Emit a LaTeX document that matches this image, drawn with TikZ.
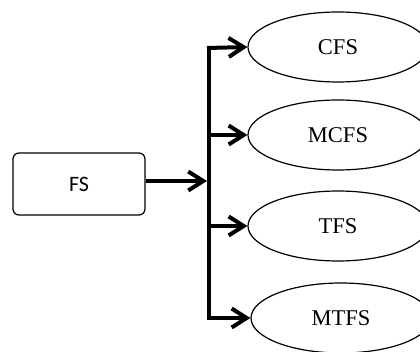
\documentclass[tikz,border=0pt]{standalone}
\usepackage{fontspec}
\setmainfont{Liberation Serif}
\newfontfamily\boxfont{Carlito}
\usetikzlibrary{shapes.geometric,arrows.meta}
\tikzset{
  oval/.style={ellipse, draw=black, line width=1.2pt, minimum width=180pt, minimum height=70pt, inner sep=0pt, font=\fontsize{22.5}{22.5}\selectfont},
  flow/.style={line width=4pt, -{Straight Barb[length=15pt,width=19pt]}},
}
\begin{document}
\begin{tikzpicture}[x=1pt,y=-1pt]
\useasboundingbox (0,0) rectangle (420,352);
\clip (0,0) rectangle (420,352);

%source box
\node[draw=black, line width=1.2pt, rounded corners=6pt, minimum width=132pt, minimum height=62pt, font=\boxfont\fontsize{22}{22}\selectfont] (fs) at (79,184) {FS};

%targets
\node[oval] (cfs) at (338,47) {CFS};
\node[oval] (mcfs) at (338,135) {MCFS};
\node[oval] (tfs) at (338,226) {TFS};
\node[oval] (mtfs) at (341,318) {MTFS};

%bus
\coordinate (top) at (209,48);
\coordinate (bottom) at (209,318);
\coordinate (mid) at (209,181);
\draw [line width=4pt] ([yshift=-2pt]top) -- (209,135) -- (209,226) -- ([yshift=2pt]bottom);

\draw [flow] (fs.east |- mid) -- ([xshift=-2pt]mid);
\draw [flow] ([xshift=-2pt]top) -- (cfs.west);
\draw [flow] (209,135) -- (mcfs.west);
\draw [flow] (209,226) -- (tfs.west);
\draw [flow] ([xshift=-2pt]bottom) -- (mtfs.west);
\end{tikzpicture}
\end{document}
